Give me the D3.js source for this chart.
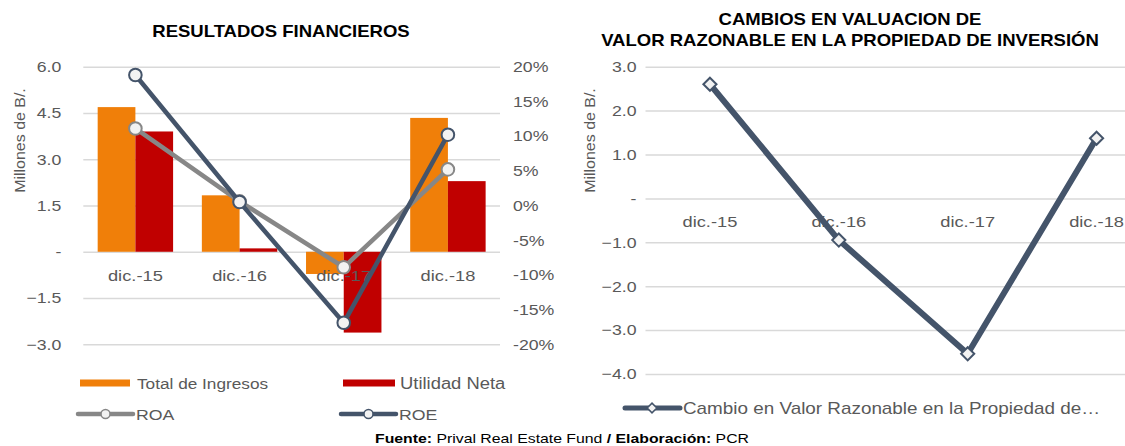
<!DOCTYPE html>
<html lang="es">
<head>
<meta charset="UTF-8">
<title>Resultados financieros</title>
<script src="https://d3js.org/d3.v7.min.js"></script>
<style>
    body { margin: 0; background: #fff; }
    svg { display: block; font-family: "Liberation Sans", Arial, sans-serif; }
    .grid line { stroke: #d9d9d9; stroke-width: 1.5; }
    .tick text { fill: #595959; font-size: 15px; }
    .ttl { font-weight: bold; font-size: 15.7px; fill: #000; }
    .lbl { fill: #595959; font-size: 15px; }
</style>
</head>
<body>
<svg width="1125" height="446"></svg>
<script>
    // datos
    const cats = ["dic.-15", "dic.-16", "dic.-17", "dic.-18"];
    const ingresos = [4.69, 1.83, -0.72, 4.34];
    const utilidad = [3.90, 0.11, -2.62, 2.29];
    const roa = [11.1, 0.6, -8.9, 5.2];
    const roe = [18.8, 0.5, -16.9, 10.2];
    const cambio = [2.60, -0.95, -3.54, 1.37];
    const leftTicks = [-3, -1.5, 0, 1.5, 3, 4.5, 6];
    const pctTicks = [-20, -15, -10, -5, 0, 5, 10, 15, 20];
    const rightTicks = [-4, -3, -2, -1, 0, 1, 2, 3];

    const SX = 1.18; // el texto del original esta estirado a lo ancho
    const naranja = "#f07f09", rojo = "#c00000", gris = "#878787", azul = "#44546a";
    const svg = d3.select("svg");

    function txt(g, x, y, s, cls, anchor) {
        return g.append("text")
            .attr("transform", `translate(${x},${y}) scale(${SX},1)`)
            .attr("class", cls)
            .attr("text-anchor", anchor || "start")
            .text(s);
    }
    function ejeTitulo(x) {
        svg.append("text").attr("class", "lbl")
            .attr("transform", `translate(${x},140.5) rotate(-90) scale(1.14,1)`)
            .attr("text-anchor", "middle").style("font-size", "14px")
            .text("Millones de B/.");
    }
    const fmtNum = d => d === 0 ? "-" : d3.format(".1f")(d);

    /* ---------- grafico izquierdo ---------- */
    const L = { x0: 83.3, x1: 500, top: 66.7, bot: 344.3 };
    const xL = d3.scaleBand().domain(cats).range([L.x0, L.x1]).paddingInner(0.276).paddingOuter(0.138);
    const xSub = d3.scaleBand().domain(["ing", "uti"]).range([0, xL.bandwidth()]);
    const yL = d3.scaleLinear().domain([-3, 6]).range([L.bot, L.top]);
    const yP = d3.scaleLinear().domain([-20, 20]).range([L.bot, L.top]);

    const gL = svg.append("g")
        .attr("class", "grid")
        .attr("transform", `translate(${L.x0},0)`)
        .call(d3.axisLeft(yL).tickValues(leftTicks).tickSize(-(L.x1 - L.x0)).tickFormat(fmtNum));
    gL.select(".domain").remove();
    gL.selectAll(".tick text").attr("x", 0).attr("transform", `translate(-22,0) scale(${SX},1)`);

    const gP = svg.append("g")
        .attr("transform", `translate(${L.x1},0)`)
        .call(d3.axisRight(yP).tickValues(pctTicks).tickSize(0).tickFormat(d => d + "%"));
    gP.select(".domain").remove();
    gP.selectAll(".tick text").attr("x", 0).attr("transform", `translate(13,0) scale(${SX},1)`);

    // barras
    const barras = svg.append("g");
    barras.selectAll(".ing").data(ingresos).join("rect")
        .attr("x", (d, i) => xL(cats[i]) + xSub("ing"))
        .attr("width", xSub.bandwidth())
        .attr("y", d => yL(Math.max(0, d)))
        .attr("height", d => Math.abs(yL(d) - yL(0)))
        .attr("fill", naranja);
    barras.selectAll(".uti").data(utilidad).join("rect")
        .attr("x", (d, i) => xL(cats[i]) + xSub("uti"))
        .attr("width", xSub.bandwidth())
        .attr("y", d => yL(Math.max(0, d)))
        .attr("height", d => Math.abs(yL(d) - yL(0)))
        .attr("fill", rojo);

    // etiquetas de categoria
    const cxL = svg.append("g")
        .attr("transform", `translate(0,${yL(0)})`)
        .call(d3.axisBottom(xL).tickSize(0).tickPadding(18));
    cxL.select(".domain").remove();
    cxL.selectAll(".tick text").attr("transform", `scale(${SX},1)`).style("font-size", "15.5px");

    // lineas ROA / ROE
    const cx = i => xL(cats[i]) + xL.bandwidth() / 2;
    [[roa, gris], [roe, azul]].forEach(([serie, col]) => {
        const line = d3.line().x((d, i) => cx(i)).y(d => yP(d));
        svg.append("path").datum(serie)
            .attr("d", line).attr("fill", "none")
            .attr("stroke", col).attr("stroke-width", 4.5).attr("stroke-linejoin", "round");
        svg.append("g").selectAll("circle").data(serie).join("circle")
            .attr("cx", (d, i) => cx(i)).attr("cy", d => yP(d)).attr("r", 6.3)
            .attr("fill", "#f2f2f2").attr("stroke", col).attr("stroke-width", 2);
    });

    txt(svg, 281, 37, "RESULTADOS FINANCIEROS", "ttl", "middle");
    ejeTitulo(25);

    // leyenda izquierda
    const leg = svg.append("g");
    leg.append("rect").attr("x", 80).attr("y", 379.5).attr("width", 50).attr("height", 7).attr("fill", naranja);
    txt(leg, 137, 388.5, "Total de Ingresos", "lbl").style("font-size", "14.6px");
    leg.append("rect").attr("x", 343).attr("y", 379.5).attr("width", 52).attr("height", 7).attr("fill", rojo);
    txt(leg, 400, 388.5, "Utilidad Neta", "lbl").style("font-size", "15.6px");
    [[78, "ROA", gris], [341, "ROE", azul]].forEach(([x, name, col]) => {
        leg.append("line").attr("x1", x).attr("x2", x + 55).attr("y1", 414).attr("y2", 414)
            .attr("stroke", col).attr("stroke-width", 4.5).attr("stroke-linecap", "round");
        leg.append("circle").attr("cx", x + 27.5).attr("cy", 414).attr("r", 4.5)
            .attr("fill", "#f2f2f2").attr("stroke", col).attr("stroke-width", 1.5);
        txt(leg, x + 58, 419.5, name, "lbl");
    });

    /* ---------- grafico derecho ---------- */
    const R = { x0: 645.5, x1: 1161, top: 66.7, bot: 374 };
    const xR = d3.scaleBand().domain(cats).range([R.x0, R.x1]);
    const yR = d3.scaleLinear().domain([-4, 3]).range([R.bot, R.top]);

    const gR = svg.append("g")
        .attr("class", "grid")
        .attr("transform", `translate(${R.x0},0)`)
        .call(d3.axisLeft(yR).tickValues(rightTicks).tickSize(-(R.x1 - R.x0)).tickFormat(fmtNum));
    gR.select(".domain").remove();
    gR.selectAll(".tick text").attr("x", 0).attr("transform", `translate(-9,0) scale(${SX},1)`);

    const cxR = svg.append("g")
        .attr("transform", `translate(0,${yR(0)})`)
        .call(d3.axisBottom(xR).tickSize(0).tickPadding(18));
    cxR.select(".domain").remove();
    cxR.selectAll(".tick text").attr("transform", `scale(${SX},1)`).style("font-size", "15.5px");

    const rx = i => xR(cats[i]) + xR.bandwidth() / 2;
    svg.append("path").datum(cambio)
        .attr("d", d3.line().x((d, i) => rx(i)).y(d => yR(d)))
        .attr("fill", "none").attr("stroke", azul).attr("stroke-width", 6).attr("stroke-linejoin", "round");
    const diamante = d3.symbol().type(d3.symbolDiamond2).size(110);
    svg.append("g").selectAll("path").data(cambio).join("path")
        .attr("d", diamante)
        .attr("transform", (d, i) => `translate(${rx(i)},${yR(d)})`)
        .attr("fill", "#f2f2f2").attr("stroke", azul).attr("stroke-width", 2);

    txt(svg, 850, 25, "CAMBIOS EN VALUACION DE", "ttl", "middle");
    txt(svg, 850, 46, "VALOR RAZONABLE EN LA PROPIEDAD DE INVERSIÓN", "ttl", "middle");
    ejeTitulo(595);

    const legR = svg.append("g");
    legR.append("line").attr("x1", 625).attr("x2", 680).attr("y1", 408).attr("y2", 408)
        .attr("stroke", azul).attr("stroke-width", 5).attr("stroke-linecap", "round");
    legR.append("path").attr("d", d3.symbol().type(d3.symbolDiamond2).size(60))
        .attr("transform", "translate(652,408)")
        .attr("fill", "#f2f2f2").attr("stroke", azul).attr("stroke-width", 1.5);
    txt(legR, 683, 413.5, "Cambio en Valor Razonable en la Propiedad de…", "lbl").style("font-size", "16px");

    // fuente
    const f = svg.append("text")
        .attr("transform", `translate(562,443) scale(${SX},1)`)
        .attr("text-anchor", "middle").style("font-size", "13.4px").attr("fill", "#000");
    f.append("tspan").attr("font-weight", "bold").text("Fuente: ");
    f.append("tspan").text("Prival Real Estate Fund ");
    f.append("tspan").attr("font-weight", "bold").text("/ Elaboración: ");
    f.append("tspan").text("PCR");
</script>
</body>
</html>
